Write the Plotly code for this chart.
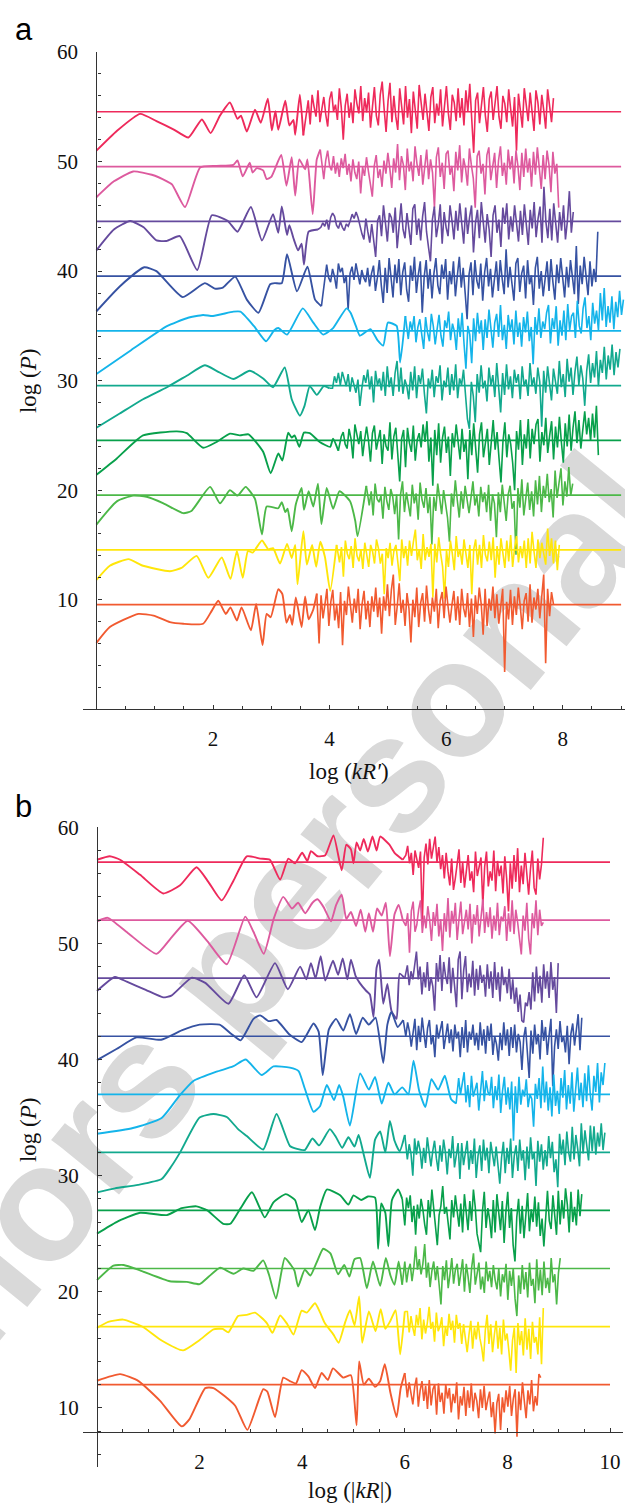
import numpy as np
import plotly.graph_objects as go

COLORS = ["#EE2A5B", "#DD5A9E", "#654A9D", "#3652A2", "#14B4EA",
          "#12A98E", "#08A04B", "#4CB848", "#FFE60A", "#F15A30"]

A_LEVELS = [54.55, 49.55, 44.55, 39.55, 34.55, 29.55, 24.55, 19.55, 14.55, 9.55]
B_LEVELS = [57, 52, 47, 42, 37, 32, 27, 22, 17, 12]
A_LINE_X = [0, 9.0]
B_LINE_X = [0, 10.0]

A_XTICKS = [2, 4, 6, 8]
B_XTICKS = [2, 4, 6, 8, 10]
YTICKS = [10, 20, 30, 40, 50, 60]

# ---------------- panel a ----------------
A1_X = [0, 0.35, 0.75, 1.03, 1.32, 1.58, 1.81, 1.96, 2.12, 2.29, 2.42, 2.48, 2.58, 2.72, 2.82, 2.94, 3.01, 3.07, 3.12, 3.24, 3.31, 3.38, 3.41, 3.49, 3.55]
A1_Y = [51.0, 52.8, 54.36, 53.7, 52.95, 52.2, 53.85, 52.6, 54.2, 55.4, 53.9, 54.2, 52.75, 54.75, 53.55, 55.75, 52.85, 54.6, 52.9, 55.55, 53.3, 53.8, 52.45, 56.1, 52.4]
A1_NR = (3.6, 7.84)
A1_N = [54.2, 55.6, 53.4, 56.1, 55.0, 54.1, 56.5, 53.6, 54.8, 55.9,
        54.3, 53.2, 55.7, 56.4, 54.6, 55.2, 53.8, 56.7, 54.9, 52.0,
        55.1, 56.2, 54.0, 55.4, 53.5, 56.6, 55.3, 54.4, 56.9, 53.7,
        55.8, 54.5, 56.3, 53.1, 55.0, 56.8, 54.2, 53.3, 56.1, 57.3,
        54.8, 52.7, 55.5, 57.2, 53.6, 56.0, 54.1, 52.9, 56.7, 55.2,
        53.4, 56.9, 54.0, 55.7, 52.6, 56.4, 54.7, 53.0, 57.0, 55.1,
        53.8, 56.2, 54.5, 52.8, 55.9, 56.8, 53.5, 55.3, 54.2, 56.6,
        53.2, 55.0, 56.9, 54.4, 52.9, 56.1, 55.4, 53.7, 56.7, 54.0,
        55.8, 53.3, 56.5, 54.6, 57.1, 53.9, 50.8, 55.6, 56.3, 53.5,
        55.0, 56.8, 54.2, 52.7, 55.7, 56.4, 53.8, 55.2, 56.9, 54.1,
        53.0, 56.0, 55.3, 53.6, 56.6, 54.8, 53.2, 55.9, 51.0, 56.2,
        54.5, 53.1, 56.7, 55.0, 53.7, 56.3, 54.2, 52.8, 56.5, 55.4,
        53.4, 56.1, 54.7, 53.0, 56.6, 55.2, 53.6, 55.8]

A2_X = [0, 0.3, 0.63, 0.95, 1.21, 1.3, 1.52, 1.78, 2.06, 2.35, 2.42, 2.51, 2.63, 2.68, 2.75, 2.86, 2.92, 3.0, 3.17, 3.26, 3.35, 3.41, 3.48, 3.58, 3.62, 3.71, 3.78, 3.84]
A2_Y = [46.75, 48.2, 49.1, 48.8, 48.2, 47.9, 45.85, 49.47, 49.6, 49.7, 50.1, 48.65, 49.9, 49.0, 49.4, 49.2, 48.4, 48.6, 50.6, 47.8, 50.4, 46.9, 50.2, 49.3, 50.2, 45.2, 50.2, 51.1]
A2_NR = (3.9, 7.93)
A2_N = [48.4, 50.1, 51.0, 49.6, 49.2, 50.5, 48.9, 49.9, 48.6, 50.3,
        49.4, 50.7, 48.8, 49.8, 48.2, 50.2, 49.0, 48.4, 50.0, 47.1,
        49.5, 48.7, 50.4, 49.1, 47.9, 46.8, 49.6, 50.6, 48.5, 49.3,
        47.7, 50.1, 48.9, 50.8, 49.4, 47.6, 50.3, 49.0, 51.6, 48.3,
        50.5, 49.7, 47.4, 51.2, 49.1, 50.0, 48.2, 51.4, 49.8, 48.7,
        50.6, 47.9, 49.5, 51.1, 48.4, 50.2, 49.0, 45.8, 50.4, 51.3,
        48.6, 49.9, 47.5, 50.7, 51.0, 48.8, 49.6, 47.3, 50.9, 49.2,
        51.5, 48.1, 50.3, 49.4, 47.8, 51.2, 49.7, 48.5, 45.8, 50.5,
        51.0, 48.9, 49.8, 47.0, 50.6, 51.3, 48.3, 49.5, 50.8, 47.6,
        50.1, 51.4, 48.7, 49.9, 47.9, 51.1, 49.3, 50.5, 48.0, 51.0,
        49.6, 47.4, 50.8, 48.6, 51.2, 49.0, 50.3, 47.7, 50.9, 48.8,
        51.3, 49.4, 47.5, 50.6, 48.4, 51.0, 49.7, 47.2, 50.9, 48.9, 49.8, 45.8]

A3_X = [0, 0.3, 0.58, 0.81, 1.03, 1.2, 1.43, 1.73, 1.98, 2.25, 2.42, 2.65, 2.84, 3.03, 3.12, 3.18, 3.27, 3.31, 3.38, 3.46, 3.52, 3.56, 3.64, 3.8]
A3_Y = [41.9, 43.8, 44.57, 44.0, 42.8, 42.75, 43.2, 40.1, 45.1, 44.6, 43.6, 45.85, 42.8, 45.2, 43.5, 45.9, 43.3, 44.2, 43.0, 41.9, 42.5, 40.6, 43.6, 43.8]
A3_NR = (3.85, 8.18)
A3_N = [44.0, 44.4, 44.1, 44.7, 43.8, 44.9, 45.3, 45.0, 44.2, 43.9,
        44.5, 44.0, 43.7, 44.3, 44.1, 44.6, 45.2, 44.8, 45.4, 44.9,
        44.0, 43.4, 42.9, 44.8, 43.6, 42.6, 44.3, 43.0, 41.3, 44.6,
        45.1, 43.2, 46.0, 44.4, 42.7, 45.3, 44.9, 43.5, 45.8, 42.1,
        44.6, 46.2, 43.8, 43.0, 45.3, 44.0, 42.4, 45.7, 46.1, 43.3,
        44.8, 42.8, 45.0, 46.3, 43.6, 42.2, 40.9, 44.7, 45.9, 43.1,
        44.3, 46.1, 42.5, 45.4, 44.0, 43.2, 46.0, 44.6, 42.9, 45.5,
        43.7, 46.2, 44.2, 42.5, 45.8, 43.4, 44.9, 46.0, 41.7, 44.4,
        45.6, 43.0, 46.3, 44.1, 42.6, 45.2, 43.8, 41.3, 45.1, 46.0,
        43.5, 44.7, 42.2, 45.8, 44.3, 46.2, 42.9, 45.0, 43.6, 46.0,
        44.4, 42.7, 45.5, 43.3, 46.1, 44.0, 42.4, 45.6, 43.9, 46.3,
        43.1, 44.8, 45.9, 42.6, 47.7, 44.5, 43.0, 45.7, 42.8, 46.2,
        44.3, 42.6, 45.4, 43.7, 46.0, 42.9, 44.6, 47.3, 43.5, 45.4]

A4_X = [0, 0.4, 0.82, 1.03, 1.48, 1.86, 2.03, 2.17, 2.38, 2.58, 2.78, 2.98, 3.06, 3.18, 3.27, 3.44, 3.62, 3.75, 3.86]
A4_Y = [36.33, 38.6, 40.35, 40.0, 37.63, 38.9, 38.4, 38.5, 39.5, 37.4, 36.2, 38.8, 38.9, 38.9, 41.55, 38.15, 40.4, 37.4, 36.8]
A4_NR = (3.95, 8.6)
A4_N = [40.6, 39.4, 39.0, 40.2, 39.5, 38.4, 40.7, 39.9, 40.3, 38.9,
        39.6, 36.5, 39.8, 40.4, 39.2, 40.7, 39.8, 38.8, 40.1, 39.4,
        39.0, 40.3, 38.6, 39.8, 40.5, 38.2, 39.4, 41.0, 38.7, 37.1,
        40.3, 38.0, 41.2, 39.5, 37.6, 40.6, 38.9, 41.1, 37.8, 39.9,
        40.8, 38.3, 37.2, 40.5, 39.1, 41.3, 38.0, 39.7, 40.9, 36.2,
        39.5, 41.0, 38.4, 40.2, 37.5, 39.8, 41.2, 38.7, 37.9, 40.6,
        39.3, 41.1, 37.4, 40.0, 38.8, 40.9, 37.7, 39.6, 41.3, 38.5,
        40.3, 38.0, 35.6, 39.7, 40.8, 37.8, 41.0, 39.1, 38.4, 40.7,
        37.3, 39.9, 41.2, 38.6, 40.2, 37.6, 39.4, 40.9, 38.2, 41.0,
        39.3, 37.9, 42.0, 38.5, 40.4, 39.0, 37.3, 40.7, 41.2, 38.1,
        39.8, 40.5, 37.5, 41.0, 38.8, 39.6, 36.9, 40.3, 41.3, 38.4,
        40.0, 37.7, 39.5, 40.9, 38.2, 41.1, 39.0, 37.4, 40.6, 38.9,
        41.2, 39.3, 37.6, 40.4, 38.5, 41.0, 39.7, 37.9, 42.3, 37.0,
        40.5, 38.8, 41.3, 39.2, 37.8, 40.9, 38.6, 40.2, 39.0, 43.6]

A5_X = [0, 0.6, 1.21, 1.55, 1.83, 2.0, 2.35, 2.47, 2.7, 2.91, 3.05, 3.12, 3.27, 3.54, 3.72, 3.89, 4.06, 4.29, 4.36, 4.45, 4.52, 4.7, 4.82, 4.92, 5.0, 5.15, 5.21, 5.3]
A5_Y = [30.6, 32.8, 34.97, 35.7, 36.0, 35.9, 36.3, 36.3, 35.0, 33.6, 34.6, 34.8, 34.2, 36.6, 35.3, 34.2, 34.8, 36.6, 36.2, 35.0, 34.1, 34.7, 33.7, 33.2, 35.3, 35.0, 31.65, 35.9]
A5_NR = (5.35, 9.04)
A5_N = [33.8, 35.4, 34.6, 35.9, 33.5, 34.9, 35.6, 34.2, 32.9, 35.8,
        34.4, 33.6, 36.1, 35.0, 33.3, 34.7, 36.0, 34.1, 33.1, 35.5,
        34.8, 36.3, 33.7, 35.2, 34.5, 32.8, 35.7, 34.0, 36.2, 33.4,
        31.1, 35.0, 34.2, 31.6, 35.7, 33.6, 36.2, 34.3, 35.5, 32.8,
        35.6, 33.9, 36.5, 34.8, 33.0, 35.3, 36.1, 34.0, 36.9, 33.7,
        35.1, 32.9, 36.0, 34.5, 35.6, 33.3, 36.4, 34.0, 35.3, 33.1,
        35.8, 34.4, 36.3, 33.6, 34.9, 31.5, 35.8, 34.2, 36.6, 33.9,
        35.4, 34.7, 36.2, 36.9, 33.4, 35.7, 34.7, 36.8, 33.2, 35.5,
        34.1, 36.4, 33.7, 37.0, 34.6, 35.9, 36.2, 33.9, 37.3, 35.0,
        34.3, 36.6, 37.6, 34.8, 35.9, 33.7, 37.1, 35.2, 36.4, 34.6,
        38.0, 35.5, 38.45, 34.9, 36.8, 35.3, 37.7, 34.7, 37.2, 35.8,
        38.2, 36.0, 37.4]

A6_X = [0, 0.4, 0.8, 1.21, 1.55, 1.86, 2.06, 2.35, 2.63, 2.86, 3.03, 3.23, 3.35, 3.49, 3.57, 3.66, 3.78, 3.9, 4.0]
A6_Y = [25.7, 27.0, 28.3, 29.4, 30.45, 31.4, 30.9, 30.15, 30.9, 30.2, 29.4, 31.2, 28.3, 26.8, 27.7, 29.5, 28.7, 29.5, 29.3]
A6_NR = (4.05, 8.98)
A6_N = [29.3, 30.4, 29.8, 30.7, 29.6, 30.8, 30.2, 29.5, 30.6, 29.0,
        30.3, 29.7, 28.9, 30.1, 27.7, 29.3, 30.5, 29.8, 31.0, 29.2,
        30.4, 28.0, 30.9, 29.6, 30.2, 29.1, 30.8, 28.6, 31.3, 29.4,
        30.3, 28.6, 30.7, 31.8, 29.0, 31.2, 28.8, 30.1, 29.5, 28.3,
        30.8, 29.1, 31.3, 28.4, 30.5, 29.7, 31.1, 28.8, 27.0, 30.2,
        29.3, 31.0, 28.5, 30.4, 29.8, 31.4, 28.2, 30.0, 29.4, 31.2,
        28.7, 30.6, 29.1, 31.5, 28.4, 30.2, 29.6, 31.0, 28.9, 26.5,
        25.6, 29.9, 28.6, 26.2, 30.6, 28.9, 31.4, 29.3, 30.0, 28.1,
        31.2, 29.6, 30.5, 28.5, 31.6, 29.2, 27.1, 30.7, 28.7, 31.5,
        29.2, 30.4, 28.4, 31.0, 29.8, 30.6, 28.3, 31.3, 29.5, 30.1,
        28.6, 31.6, 29.5, 30.3, 28.8, 31.2, 29.9, 25.8, 30.9, 28.9,
        31.3, 29.7, 28.2, 31.1, 30.0, 28.8, 31.8, 29.4, 30.6, 28.5,
        32.0, 29.9, 31.2, 28.7, 30.8, 32.2, 29.6, 31.4, 30.2, 27.7,
        30.9, 32.4, 29.8, 31.6, 30.3, 32.7, 29.5, 31.9, 30.7, 33.1,
        30.1, 32.3, 31.0, 33.3, 30.5, 32.6, 31.2, 32.9]

A7_X = [0, 0.35, 0.8, 1.38, 1.55, 1.83, 2.06, 2.29, 2.46, 2.61, 2.86, 2.99, 3.12, 3.19, 3.29, 3.35, 3.4, 3.48, 3.56, 3.66, 3.83, 4.01, 4.06, 4.15]
A7_Y = [21.4, 22.9, 25.0, 25.37, 25.2, 23.87, 24.4, 25.16, 25.0, 25.1, 23.5, 21.55, 23.35, 22.7, 25.25, 24.8, 25.0, 23.95, 25.25, 25.2, 24.4, 23.95, 24.7, 23.6]
A7_NR = (4.2, 8.61)
A7_N = [24.9, 25.3, 24.2, 23.8, 25.6, 24.7, 22.9, 26.0, 25.1, 24.2,
        25.4, 23.1, 24.6, 25.8, 24.5, 22.6, 25.2, 25.9, 23.7, 24.8,
        25.5, 22.4, 25.1, 24.0, 23.6, 26.2, 22.8, 24.9, 25.7, 23.3,
        20.8, 24.7, 25.5, 22.1, 25.7, 24.3, 23.5, 25.9, 22.7, 24.6,
        25.2, 23.9, 26.0, 24.4, 26.3, 22.6, 24.8, 20.4, 25.5, 23.2,
        26.1, 22.5, 24.8, 25.8, 23.4, 24.9, 21.3, 25.2, 23.9, 26.0,
        24.3, 22.8, 25.6, 23.5, 24.6, 21.0, 25.5, 23.2, 26.1, 24.0,
        21.6, 25.1, 26.2, 23.0, 24.4, 25.6, 22.3, 24.8, 26.4, 23.7,
        25.3, 22.9, 20.7, 24.4, 26.2, 23.0, 25.1, 24.2, 22.5, 20.0,
        25.4, 23.7, 26.4, 22.3, 25.1, 23.8, 26.5, 22.9, 25.6, 24.2,
        26.0, 26.5, 22.6, 25.3, 24.1, 26.6, 23.4, 25.0, 26.3, 22.8,
        25.8, 23.9, 26.7, 24.4, 22.5, 26.1, 24.0, 26.9, 23.6, 25.7,
        27.2, 24.3, 26.4, 23.8, 25.6, 27.2, 25.1, 26.6, 24.5, 27.0,
        24.8, 27.7, 23.2]

A8_X = [0, 0.35, 0.63, 0.86, 1.15, 1.49, 1.63, 1.95, 2.12, 2.29, 2.42, 2.56, 2.72, 2.84, 2.92, 3.12, 3.18, 3.24, 3.28, 3.35, 3.42, 3.52, 3.56, 3.64, 3.72, 3.8, 3.86, 3.95, 4.06, 4.17, 4.35, 4.44, 4.48, 4.63]
A8_Y = [16.86, 18.98, 19.5, 19.4, 18.8, 17.9, 18.1, 20.3, 18.8, 20.0, 19.5, 20.3, 19.2, 15.95, 18.5, 18.35, 18.9, 18.0, 18.3, 16.25, 18.7, 20.2, 18.2, 19.9, 18.5, 20.6, 16.9, 20.2, 18.3, 19.9, 19.0, 17.2, 15.8, 20.4]
A8_NR = (4.68, 8.17)
A8_N = [18.6, 19.9, 17.7, 20.6, 19.2, 18.9, 19.5, 17.4, 20.3, 19.0,
        18.2, 20.1, 19.4, 17.8, 19.6, 15.5, 19.6, 20.8, 18.0, 19.8,
        18.7, 17.6, 20.5, 18.8, 19.7, 17.3, 20.7, 19.1, 18.4, 20.2,
        17.9, 19.4, 15.05, 19.4, 18.1, 20.6, 19.3, 17.8, 20.0, 18.6,
        17.5, 15.3, 19.7, 18.5, 20.9, 19.1, 17.5, 19.9, 18.3, 20.4,
        19.0, 17.9, 19.3, 20.8, 18.6, 19.5, 17.6, 20.3, 18.9, 19.8,
        18.0, 20.5, 17.2, 19.6, 18.8, 15.7, 19.8, 18.0, 20.5, 19.1,
        17.2, 19.6, 20.4, 18.3, 19.0, 14.1, 20.2, 18.4, 21.0, 17.7,
        19.5, 20.7, 18.2, 19.9, 17.6, 20.9, 18.7, 21.3, 18.0, 20.4,
        19.3, 21.5, 18.9, 20.1, 17.5, 21.8, 19.3, 20.6, 22.0, 18.6,
        20.8, 19.4, 22.1, 19.5, 20.6]

A9_X = [0, 0.23, 0.55, 0.8, 1.26, 1.46, 1.72, 1.92, 2.15, 2.3, 2.41, 2.51, 2.6, 2.68, 2.84, 2.95, 3.03, 3.15, 3.27, 3.35, 3.41, 3.45, 3.55, 3.61, 3.7, 3.77, 3.84, 3.92, 4.01, 4.12]
A9_Y = [11.8, 13.1, 13.7, 13.1, 12.6, 12.9, 14.0, 12.0, 13.85, 11.9, 14.45, 12.0, 14.45, 14.3, 15.4, 14.6, 14.7, 13.3, 15.1, 13.8, 15.0, 11.4, 16.25, 13.2, 15.0, 13.0, 15.3, 13.9, 10.8, 15.0]
A9_NR = (4.17, 7.94)
A9_N = [13.4, 14.8, 12.1, 15.4, 14.2, 13.7, 14.9, 12.9, 15.6, 14.0,
        13.5, 14.6, 12.8, 15.2, 14.1, 13.0, 15.0, 14.4, 13.3, 15.5,
        14.7, 13.3, 14.2, 10.5, 14.7, 13.8, 15.2, 13.1, 14.5, 15.0,
        13.4, 11.7, 15.5, 13.8, 14.9, 13.1, 15.4, 14.0, 15.3, 16.4,
        13.6, 14.6, 12.8, 16.0, 13.6, 14.8, 13.9, 15.1, 10.2, 15.1,
        13.4, 15.7, 14.2, 13.0, 10.1, 14.5, 13.0, 15.4, 14.2, 12.7,
        15.8, 13.9, 14.6, 13.2, 15.5, 14.0, 12.9, 15.0, 10.5, 14.6,
        15.5, 13.2, 15.0, 12.9, 15.9, 14.1, 13.5, 15.3, 13.6, 15.7,
        12.0, 14.9, 13.2, 15.6, 14.3, 12.9, 15.4, 13.5, 15.9, 13.0,
        14.7, 15.8, 13.4, 14.9, 13.8, 15.4, 12.9, 15.6, 13.3, 16.2,
        14.4, 12.9, 15.5, 13.8, 15.2, 14.0, 13.2, 16.5, 14.0, 15.6,
        13.3, 15.4, 12.7, 15.0]

A10_X = [0, 0.23, 0.72, 0.98, 1.26, 1.49, 1.83, 1.98, 2.09, 2.22, 2.3, 2.41, 2.49, 2.65, 2.74, 2.85, 2.92, 2.99, 3.12, 3.19, 3.26, 3.32, 3.36, 3.42, 3.52, 3.58, 3.64, 3.72, 3.78]
A10_Y = [6.05, 7.5, 8.7, 8.55, 7.95, 7.8, 7.8, 9.0, 9.9, 8.7, 9.3, 8.1, 9.3, 7.2, 9.6, 5.85, 8.7, 8.4, 10.95, 10.5, 7.9, 8.6, 7.7, 10.2, 7.5, 10.3, 8.2, 9.1, 10.55]
A10_NR = (3.82, 7.84)
A10_N = [6.0, 10.4, 8.3, 9.6, 11.0, 7.6, 9.8, 10.9, 8.1, 9.5,
         7.4, 10.7, 5.85, 9.9, 8.6, 11.2, 9.3, 7.9, 10.1, 8.8,
         11.0, 7.3, 9.6, 10.8, 8.2, 9.9, 7.5, 10.3, 8.9, 11.1,
         8.4, 10.2, 6.9, 10.3, 9.0, 11.4, 8.5, 10.9, 12.3, 7.7,
         9.4, 11.5, 8.8, 10.0, 7.6, 10.6, 9.2, 6.1, 10.0, 8.4,
         11.1, 7.5, 9.7, 10.6, 8.0, 11.3, 9.1, 7.8, 10.2, 8.9,
         11.0, 7.4, 9.9, 10.7, 8.3, 11.2, 9.4, 7.9, 9.5, 10.8,
         8.1, 10.3, 7.7, 11.0, 9.2, 8.4, 10.6, 7.5, 10.1, 6.6,
         10.4, 8.7, 11.1, 9.6, 6.8, 11.0, 7.6, 10.1, 9.0, 11.2,
         8.3, 10.5, 7.8, 9.7, 11.0, 3.4, 9.8, 8.2, 10.9, 7.7,
         10.3, 8.6, 11.1, 9.4, 7.3, 9.9, 10.6, 8.0, 11.4, 7.9,
         10.2, 9.1, 11.0, 8.3, 10.5, 12.3, 4.2, 11.0, 8.5, 10.7, 9.6]

# ---------------- panel b ----------------
B1_X = [0, 0.25, 0.45, 0.84, 1.29, 1.62, 1.94, 2.17, 2.43, 2.66, 2.92, 3.18, 3.37, 3.57, 3.73, 3.86, 4.0, 4.1, 4.17, 4.3, 4.45, 4.61, 4.77, 4.86, 4.95, 5.0, 5.06, 5.13, 5.2, 5.28, 5.37, 5.45, 5.52, 5.7, 5.8, 5.96]
B1_Y = [57.2, 57.5, 57.2, 55.9, 54.3, 55.0, 56.55, 55.3, 53.7, 55.4, 57.5, 57.3, 57.2, 55.5, 57.3, 56.9, 57.8, 57.1, 57.95, 57.5, 57.6, 59.3, 56.3, 58.5, 58.1, 56.9, 58.7, 58.0, 59.0, 57.9, 59.2, 58.0, 59.2, 58.5, 57.8, 57.2]
B1_NR = (6.02, 8.7)
B1_N = [57.6, 58.4, 56.9, 57.8, 55.9, 58.0, 57.2, 56.5, 57.9, 51.75,
        57.4, 58.6, 56.8, 59.0, 57.3, 58.2, 59.2, 57.0, 58.3, 56.4,
        57.6, 55.6, 57.8, 56.2, 55.0, 57.3, 54.6, 55.6, 56.8, 58.1,
        55.2, 57.0, 54.8, 56.5, 57.6, 55.4, 56.2, 54.4, 57.9, 55.8,
        56.6, 57.4, 53.3, 56.6, 57.9, 54.9, 56.2, 55.4, 58.0, 54.5,
        57.1, 55.8, 56.7, 54.3, 57.5, 55.6, 52.75, 56.9, 54.7, 57.6,
        55.3, 58.2, 54.4, 56.7, 55.1, 57.8, 56.0, 54.2, 56.4, 58.0,
        54.8, 54.2, 57.3, 55.5, 56.8, 59.1]

B2_X = [0, 0.21, 0.6, 1.16, 1.45, 1.77, 2.15, 2.53, 2.89, 3.05, 3.25, 3.45, 3.63, 3.8, 3.92, 4.06, 4.2, 4.3, 4.42, 4.56, 4.66, 4.77, 4.86, 4.95, 5.05, 5.14, 5.23, 5.3, 5.38, 5.46, 5.55, 5.63, 5.71, 5.8, 5.88, 5.96]
B2_Y = [51.9, 52.2, 50.9, 49.1, 50.5, 51.95, 50.2, 48.2, 52.3, 51.0, 49.1, 52.2, 54.0, 53.0, 53.5, 52.6, 53.5, 53.8, 53.1, 51.9, 53.3, 54.2, 52.1, 52.7, 51.5, 52.9, 51.0, 52.6, 51.0, 53.0, 52.4, 53.5, 48.9, 52.5, 53.3, 52.0]
B2_NR = (6.02, 8.7)
B2_N = [51.5, 52.6, 49.2, 52.8, 53.6, 51.0, 51.6, 52.9, 53.7, 50.9,
        52.4, 51.3, 53.2, 52.0, 50.2, 52.7, 51.5, 53.4, 50.6, 52.1,
        49.35, 52.6, 51.0, 53.9, 50.5, 52.8, 51.7, 53.5, 50.3, 52.1,
        53.6, 50.8, 51.9, 52.9, 51.2, 53.4, 50.0, 52.5, 51.6, 53.3,
        50.6, 52.2, 53.8, 50.9, 52.7, 51.4, 53.1, 50.4, 52.4, 51.1,
        53.5, 50.7, 52.3, 51.9, 53.2, 50.2, 52.6, 51.0, 53.7, 50.8,
        52.9, 51.8, 50.5, 49.05, 52.4, 51.1, 53.5, 50.4, 49.05, 52.6,
        51.3, 53.7, 50.7, 52.9, 51.5, 51.8]

B3_X = [0, 0.35, 0.58, 0.95, 1.29, 1.45, 1.85, 2.11, 2.56, 2.87, 3.11, 3.47, 3.72, 3.96, 4.08, 4.17, 4.26, 4.36, 4.45, 4.6, 4.7, 4.79, 4.88, 4.95, 5.04, 5.12, 5.25, 5.32, 5.39, 5.45, 5.5, 5.58, 5.66, 5.74, 5.84, 5.9, 6.0]
B3_Y = [45.9, 47.1, 46.7, 46.0, 45.35, 45.5, 47.05, 46.6, 44.8, 47.25, 45.35, 48.3, 46.05, 48.0, 46.9, 48.3, 47.0, 48.9, 46.8, 48.5, 47.3, 48.7, 46.9, 48.6, 47.2, 46.6, 45.9, 45.6, 43.65, 47.9, 48.6, 44.8, 46.5, 44.2, 43.5, 47.4, 47.0]
B3_NR = (6.05, 8.99)
B3_N = [48.1, 46.4, 47.6, 46.9, 48.0, 49.3, 46.9, 48.0, 45.6, 47.5,
        46.2, 48.4, 45.9, 47.1, 46.3, 44.2, 48.3, 46.7, 49.0, 45.9,
        48.4, 47.2, 46.5, 48.8, 45.7, 47.9, 46.3, 44.5, 48.6, 49.3,
        45.2, 47.7, 48.9, 45.8, 47.4, 46.2, 48.5, 45.5, 47.8, 46.0,
        48.1, 46.6, 47.3, 45.4, 48.2, 46.1, 47.6, 45.3, 48.4, 46.0,
        47.5, 45.0, 48.0, 46.4, 47.1, 45.7, 47.8, 45.2, 46.9, 44.8,
        46.2, 44.1, 45.6, 43.35, 43.2, 44.9, 44.6, 45.8, 44.3, 47.5,
        45.0, 48.0, 45.7, 47.2, 44.9, 48.2, 46.1, 47.6, 45.3, 48.4,
        46.0, 47.1, 44.0, 48.3]

B4_X = [0, 0.38, 0.77, 1.25, 1.65, 2.0, 2.39, 2.62, 2.8, 3.05, 3.18, 3.35, 3.5, 3.74, 3.99, 4.22, 4.32, 4.4, 4.52, 4.66, 4.8, 4.93, 5.05, 5.18, 5.3, 5.43, 5.58, 5.66, 5.74, 5.86, 5.97]
B4_Y = [39.95, 40.9, 41.9, 41.7, 42.5, 43.0, 43.0, 42.2, 41.65, 43.5, 43.8, 43.3, 43.4, 42.2, 41.5, 43.1, 42.4, 38.65, 42.6, 43.5, 42.5, 43.9, 42.2, 43.6, 43.0, 43.6, 39.7, 43.0, 44.1, 42.8, 43.4]
B4_NR = (6.02, 9.45)
B4_N = [42.0, 43.2, 42.4, 41.1, 42.6, 43.5, 40.8, 42.9, 41.5, 43.6,
        42.2, 41.0, 42.7, 43.4, 41.3, 42.1, 40.2, 43.0, 41.8, 42.5,
        43.3, 40.9, 42.2, 43.1, 41.4, 42.6, 40.7, 43.0, 41.8, 42.4,
        40.2, 42.8, 41.0, 43.4, 40.6, 42.4, 41.7, 43.0, 41.2, 42.3,
        40.8, 43.2, 41.2, 42.6, 40.5, 42.9, 41.6, 43.1, 40.4, 42.0,
        41.3, 39.9, 42.3, 40.8, 43.2, 41.2, 42.6, 40.3, 42.8, 41.0,
        43.0, 40.6, 42.2, 41.5, 39.1, 41.9, 42.8, 40.4, 38.4, 42.5,
        40.5, 43.0, 41.3, 42.2, 40.0, 43.4, 41.6, 42.8, 40.4, 42.1,
        43.5, 37.7, 41.1, 42.6, 40.9, 43.3, 41.5, 42.0, 40.6, 42.9,
        39.6, 42.2, 43.1, 41.2, 42.7, 43.9, 40.8, 43.6]

B5_X = [0, 0.7, 1.26, 1.62, 1.88, 2.33, 2.65, 2.9, 3.21, 3.44, 3.76, 3.93, 4.05, 4.22, 4.35, 4.48, 4.62, 4.72, 4.8, 4.93, 5.13, 5.3, 5.42, 5.55, 5.68, 5.8, 5.95, 6.07, 6.17, 6.28, 6.4, 6.52, 6.65, 6.78, 6.9, 7.0]
B5_Y = [33.6, 34.1, 34.96, 36.95, 38.15, 38.95, 39.4, 40.0, 38.66, 39.4, 39.3, 39.0, 37.5, 35.5, 36.0, 37.8, 36.5, 37.8, 36.8, 34.3, 38.8, 37.4, 38.5, 36.2, 38.0, 37.0, 37.6, 37.0, 39.9, 37.3, 35.9, 38.3, 37.4, 38.6, 36.6, 36.2]
B5_NR = (7.05, 9.9)
B5_N = [38.4, 37.0, 37.8, 38.9, 36.3, 37.8, 35.9, 38.6, 36.8, 37.5,
        38.0, 35.6, 37.5, 39.0, 36.4, 38.2, 37.2, 36.9, 38.5, 35.8,
        37.7, 36.5, 38.7, 35.4, 37.3, 38.5, 36.1, 37.6, 35.7, 38.1,
        33.0, 37.7, 35.4, 38.5, 36.1, 37.4, 36.8, 38.3, 35.9, 37.0,
        36.6, 34.2, 37.9, 36.6, 38.4, 35.8, 39.4, 36.3, 38.1, 35.6,
        37.6, 35.1, 38.7, 36.0, 37.3, 35.3, 38.4, 36.7, 39.1, 35.7,
        37.8, 36.2, 38.9, 35.5, 37.4, 39.3, 36.5, 38.0, 35.9, 38.8,
        36.4, 39.5, 37.0, 35.6, 38.6, 37.2, 39.7, 36.3, 38.9, 37.8, 39.7]

B6_X = [0, 0.35, 0.8, 1.26, 1.45, 1.62, 2.0, 2.27, 2.53, 2.75, 2.92, 3.24, 3.5, 3.76, 3.9, 4.05, 4.2, 4.33, 4.54, 4.66, 4.78, 4.9, 5.02, 5.1, 5.2, 5.32, 5.42, 5.52, 5.62, 5.71, 5.8, 5.9, 6.0]
B6_Y = [28.56, 28.9, 29.2, 29.7, 30.8, 32.0, 35.0, 35.3, 35.05, 34.0, 33.4, 32.25, 35.3, 32.55, 32.3, 32.2, 33.2, 32.6, 34.0, 33.3, 32.4, 33.3, 32.5, 33.5, 31.8, 29.8, 33.1, 33.8, 32.0, 34.7, 33.0, 32.1, 33.5]
B6_NR = (6.05, 9.9)
B6_N = [31.4, 32.7, 31.9, 30.0, 33.2, 31.8, 33.0, 32.2, 30.6, 32.4,
        31.1, 33.3, 32.0, 30.8, 32.1, 33.0, 31.5, 30.4, 32.6, 31.2,
        33.1, 32.0, 30.1, 32.3, 31.5, 33.4, 30.7, 31.9, 32.8, 29.7,
        32.8, 30.9, 31.8, 33.0, 30.5, 32.2, 31.0, 33.2, 29.8, 31.7,
        32.6, 30.4, 33.1, 31.3, 32.4, 30.2, 32.9, 31.6, 30.8, 32.5,
        31.0, 29.3, 31.6, 32.9, 30.2, 32.4, 31.0, 33.2, 29.8, 31.7,
        32.6, 30.4, 33.1, 31.3, 32.2, 29.6, 32.5, 30.6, 33.3, 31.4,
        32.0, 29.1, 33.0, 31.2, 32.7, 30.5, 32.2, 30.8, 33.4, 31.5,
        32.9, 30.3, 31.4, 29.0, 33.6, 31.8, 33.1, 30.9, 33.8, 32.0,
        31.2, 34.2, 31.4, 33.5, 32.3, 30.8, 34.5, 31.9, 33.9, 32.6,
        31.3, 34.3, 32.1, 34.25, 31.8, 33.7, 32.5, 34.5, 32.2, 33.7]

B7_X = [0, 0.38, 0.84, 1.36, 1.65, 1.94, 2.15, 2.46, 2.6, 2.8, 3.02, 3.27, 3.44, 3.68, 3.86, 3.99, 4.12, 4.25, 4.35, 4.48, 4.74, 4.9, 5.0, 5.15, 5.28, 5.42, 5.48, 5.54, 5.62, 5.68, 5.75, 5.87, 5.95]
B7_Y = [25.0, 26.0, 26.8, 26.6, 27.2, 27.35, 27.0, 25.85, 25.85, 27.2, 28.56, 26.4, 27.7, 28.4, 27.9, 26.0, 27.0, 25.3, 27.3, 28.8, 28.3, 27.5, 28.3, 27.9, 28.2, 28.1, 23.7, 27.6, 26.8, 23.9, 27.9, 28.8, 28.0]
B7_NR = (6.0, 9.45)
B7_N = [25.7, 28.1, 27.2, 28.3, 26.0, 27.4, 24.9, 27.5, 26.3, 28.0,
        27.1, 25.8, 24.9, 27.9, 26.4, 28.8, 27.0, 25.2, 24.0, 26.6,
        27.4, 29.1, 26.7, 27.3, 25.8, 24.5, 27.9, 26.4, 28.3, 27.0,
        25.6, 27.6, 25.1, 28.4, 26.7, 25.3, 27.8, 26.1, 28.8, 27.3,
        25.0, 24.2, 23.4, 26.9, 28.6, 25.5, 27.2, 26.2, 24.6, 27.9,
        25.1, 28.4, 26.7, 25.3, 27.8, 24.2, 26.9, 28.6, 25.5, 27.2,
        24.0, 22.6, 26.4, 28.0, 25.0, 27.4, 24.6, 26.8, 28.5, 25.2,
        27.1, 26.0, 28.2, 25.6, 27.7, 24.8, 26.3, 23.9, 26.9, 28.7,
        26.1, 25.4, 28.3, 26.6, 24.9, 28.7, 25.8, 27.9, 26.3, 28.9,
        27.5, 25.1, 28.6, 26.0, 27.3, 25.7, 28.8, 26.5, 28.4]

B8_X = [0, 0.32, 0.52, 0.86, 1.42, 1.75, 2.0, 2.18, 2.4, 2.66, 2.85, 3.05, 3.24, 3.35, 3.49, 3.66, 3.78, 3.85, 3.92, 4.05, 4.16, 4.28, 4.41, 4.55, 4.7, 4.82, 4.92, 5.02, 5.13, 5.26, 5.38, 5.52, 5.63, 5.72, 5.8, 5.88, 5.95]
B8_Y = [21.0, 22.24, 22.3, 21.8, 20.9, 20.85, 20.65, 21.3, 22.07, 21.55, 22.0, 21.8, 22.7, 21.5, 19.4, 22.9, 22.3, 21.8, 20.45, 21.9, 21.4, 22.5, 23.7, 23.3, 21.5, 22.3, 21.3, 22.8, 22.9, 20.3, 22.6, 20.5, 22.9, 21.4, 20.6, 22.6, 20.6]
B8_NR = (6.0, 9.03)
B8_N = [22.6, 20.8, 21.9, 22.4, 20.9, 22.1, 23.9, 21.9, 22.8, 21.5,
        22.4, 24.1, 21.2, 22.5, 20.4, 21.8, 22.6, 21.0, 22.2, 20.6,
        18.9, 22.2, 21.0, 22.7, 20.3, 21.5, 22.9, 20.7, 21.9, 22.4,
        20.5, 21.6, 22.8, 20.0, 22.4, 21.3, 19.9, 22.1, 23.3, 20.6,
        21.7, 22.5, 20.2, 21.3, 19.9, 22.6, 20.9, 21.8, 20.4, 22.3,
        21.0, 20.2, 22.0, 19.6, 21.5, 20.8, 22.4, 19.3, 21.8, 20.5,
        22.0, 19.4, 17.9, 21.4, 19.8, 22.3, 20.2, 21.7, 19.5, 22.5,
        20.5, 21.1, 19.0, 22.8, 20.1, 21.9, 19.7, 22.6, 20.3, 21.2,
        19.9, 22.9, 20.8, 21.5, 18.9, 21.6, 22.9]

B9_X = [0, 0.22, 0.51, 0.88, 1.26, 1.68, 1.99, 2.27, 2.45, 2.56, 2.75, 2.92, 3.08, 3.31, 3.42, 3.57, 3.71, 3.83, 3.99, 4.09, 4.25, 4.35, 4.44, 4.61, 4.71, 4.84, 4.93, 5.02, 5.11, 5.17, 5.3, 5.43, 5.53, 5.62, 5.72, 5.82, 5.91, 6.0]
B9_Y = [16.88, 17.4, 17.6, 17.0, 15.8, 14.95, 15.8, 16.75, 16.8, 16.5, 17.9, 18.0, 18.2, 17.3, 16.45, 17.95, 17.2, 16.3, 18.37, 18.2, 19.0, 18.2, 17.3, 16.3, 15.6, 17.4, 18.4, 17.1, 19.6, 15.6, 18.3, 16.6, 18.5, 16.8, 17.5, 18.4, 14.6, 18.3]
B9_NR = (6.05, 8.7)
B9_N = [18.3, 16.5, 17.9, 16.9, 16.2, 18.0, 17.1, 18.6, 15.9, 17.6,
        16.4, 17.3, 18.7, 16.8, 17.4, 15.7, 18.2, 16.6, 17.0, 17.8,
        15.3, 17.0, 16.2, 18.1, 16.7, 17.5, 15.6, 18.0, 16.8, 17.3,
        15.5, 17.2, 16.1, 14.8, 16.3, 17.5, 15.1, 16.9, 15.9, 17.4,
        16.0, 15.2, 14.0, 16.7, 18.0, 15.5, 17.2, 14.8, 16.3, 17.5,
        15.1, 16.9, 14.6, 17.6, 15.8, 16.4, 14.9, 13.2, 15.8, 16.9,
        13.0, 17.3, 15.4, 16.6, 14.5, 17.7, 15.0, 16.8, 14.2, 17.4,
        15.6, 16.1, 14.6, 17.8, 13.75, 18.6]

B10_X = [0, 0.45, 0.81, 1.23, 1.65, 1.8, 2.11, 2.27, 2.69, 2.93, 3.24, 3.32, 3.47, 3.63, 3.76, 3.88, 3.99, 4.12, 4.25, 4.38, 4.5, 4.6, 4.8, 4.95, 5.06, 5.11, 5.2, 5.3, 5.42, 5.52, 5.61, 5.72, 5.84, 5.92, 6.0]
B10_Y = [12.33, 12.9, 12.3, 10.6, 8.4, 9.0, 11.7, 11.7, 10.2, 8.1, 11.6, 11.4, 9.2, 12.6, 12.3, 12.1, 13.25, 12.7, 11.7, 13.0, 12.4, 13.4, 12.6, 12.8, 8.5, 14.0, 12.0, 12.5, 11.8, 12.3, 13.75, 11.3, 9.2, 11.7, 13.0]
B10_NR = (6.05, 8.65)
B10_N = [10.9, 12.2, 11.4, 10.3, 11.8, 12.6, 10.1, 11.5, 12.3, 10.6,
         11.9, 9.9, 12.4, 10.2, 11.6, 12.0, 9.4, 12.1, 10.5, 11.3,
         9.5, 12.0, 10.8, 11.7, 9.6, 11.2, 10.4, 12.2, 9.0, 11.0,
         10.2, 11.8, 9.3, 11.5, 10.0, 12.1, 9.7, 11.3, 10.6, 9.1,
         11.6, 10.0, 11.9, 9.8, 10.7, 11.4, 9.2, 10.5, 7.8, 10.4,
         11.2, 8.1, 10.9, 9.6, 11.5, 10.1, 11.9, 9.3, 10.8, 11.6,
         7.5, 11.4, 9.8, 12.2, 10.6, 9.1, 11.5, 10.3, 12.4, 9.7,
         11.0, 10.2, 12.9, 12.6]

PANEL_A = [(A1_X, A1_Y, A1_N, A1_NR), (A2_X, A2_Y, A2_N, A2_NR), (A3_X, A3_Y, A3_N, A3_NR),
           (A4_X, A4_Y, A4_N, A4_NR), (A5_X, A5_Y, A5_N, A5_NR), (A6_X, A6_Y, A6_N, A6_NR),
           (A7_X, A7_Y, A7_N, A7_NR), (A8_X, A8_Y, A8_N, A8_NR), (A9_X, A9_Y, A9_N, A9_NR),
           (A10_X, A10_Y, A10_N, A10_NR)]
PANEL_B = [(B1_X, B1_Y, B1_N, B1_NR), (B2_X, B2_Y, B2_N, B2_NR), (B3_X, B3_Y, B3_N, B3_NR),
           (B4_X, B4_Y, B4_N, B4_NR), (B5_X, B5_Y, B5_N, B5_NR), (B6_X, B6_Y, B6_N, B6_NR),
           (B7_X, B7_Y, B7_N, B7_NR), (B8_X, B8_Y, B8_N, B8_NR), (B9_X, B9_Y, B9_N, B9_NR),
           (B10_X, B10_Y, B10_N, B10_NR)]

W, H = 625, 1508
fig = go.Figure()


def add_curves(panel, levels, line_x, xa, ya):
    for (xs, ys, noise, nr), color in zip(panel, COLORS):
        fig.add_trace(go.Scatter(x=xs, y=ys, mode="lines", xaxis=xa, yaxis=ya,
                                 line=dict(color=color, width=1.9, shape="spline", smoothing=0.5),
                                 hoverinfo="skip", showlegend=False))
        nx = [xs[-1]] + list(np.linspace(nr[0], nr[1], len(noise)))
        ny = [ys[-1]] + list(noise)
        fig.add_trace(go.Scatter(x=nx, y=ny, mode="lines", xaxis=xa, yaxis=ya,
                                 line=dict(color=color, width=1.6),
                                 hoverinfo="skip", showlegend=False))
    for lev, color in zip(levels, COLORS):
        fig.add_trace(go.Scatter(x=line_x, y=[lev, lev], mode="lines", xaxis=xa, yaxis=ya,
                                 line=dict(color=color, width=1.7),
                                 hoverinfo="skip", showlegend=False))


add_curves(PANEL_A, A_LEVELS, A_LINE_X, "x", "y")
add_curves(PANEL_B, B_LEVELS, B_LINE_X, "x2", "y2")

AX = "#333333"
TICKFONT = dict(family="Liberation Serif", size=21, color="#111111")
common = dict(showline=True, linecolor=AX, linewidth=1.2, ticks="inside", ticklen=4,
              tickwidth=1, tickcolor=AX, showgrid=False, zeroline=False,
              tickfont=TICKFONT, fixedrange=True)


def xminor():
    return dict(ticks="inside", ticklen=3, tickwidth=1, tickcolor=AX, tick0=0, dtick=0.5, showgrid=False)


def yminor():
    return dict(ticks="inside", ticklen=3, tickwidth=1, tickcolor=AX, tick0=0, dtick=2, showgrid=False)


a_x0px, a_ppu = 96.4, 58.3
b_x0px, b_ppu = 97.0, 51.3

fig.update_layout(
    width=W, height=H, margin=dict(l=0, r=0, t=0, b=0),
    paper_bgcolor="white", plot_bgcolor="rgba(0,0,0,0)", showlegend=False,
    xaxis=dict(domain=[83 / W, 1.0], range=[(83 - a_x0px) / a_ppu, (625 - a_x0px) / a_ppu],
               anchor="y", tickmode="array", tickvals=A_XTICKS, ticktext=[str(v) for v in A_XTICKS],
               minor=xminor(), ticklabelstandoff=10, **common),
    yaxis=dict(domain=[1 - 702.8 / H, 1 - 40.4 / H], range=[0, 60], anchor="free",
               position=a_x0px / W, tickmode="array", tickvals=YTICKS,
               ticktext=[str(v) for v in YTICKS], minor=yminor(), ticklabelstandoff=14, **common),
    xaxis2=dict(domain=[83 / W, 623 / W], range=[(83 - b_x0px) / b_ppu, (623 - b_x0px) / b_ppu],
                anchor="free", position=1 - 1431.7 / H, tickmode="array", tickvals=B_XTICKS,
                ticktext=[str(v) for v in B_XTICKS], minor=xminor(), ticklabelstandoff=10, **common),
    yaxis2=dict(domain=[1 - 1466.7 / H, 1 - 821.8 / H], range=[4.9, 60], anchor="free",
                position=b_x0px / W, tickmode="array", tickvals=YTICKS,
                ticktext=[str(v) for v in YTICKS], minor=yminor(), ticklabelstandoff=14, **common),
)

# watermark (behind the data)
cx, cy, ang, half = 322.0, 825.0, np.deg2rad(51), 300.0
fig.add_shape(type="line", xref="paper", yref="paper",
              x0=(cx - half * np.cos(ang)) / W, y0=1 - (cy + half * np.sin(ang)) / H,
              x1=(cx + half * np.cos(ang)) / W, y1=1 - (cy - half * np.sin(ang)) / H,
              line=dict(color="rgba(0,0,0,0)", width=1), layer="below",
              label=dict(text="Authors personal copy", textposition="middle", yanchor="middle",
                         font=dict(family="Liberation Sans", size=165, color="#d9d9d9", weight="bold")))

TFONT = dict(family="Liberation Serif", size=23, color="#111111")


def ann(text, xpx, ypx, angle=0, font=TFONT, xanchor="center", yanchor="middle"):
    fig.add_annotation(text=text, x=xpx / W, y=1 - ypx / H, xref="paper", yref="paper",
                       showarrow=False, textangle=angle, font=font, xanchor=xanchor, yanchor=yanchor)


ann("log (<i>P</i>)", 28, 372, angle=-90)
ann("log (<i>kR′</i>)", 349, 766)
ann("log (<i>P</i>)", 28, 1127, angle=-90)
ann("log (|<i>kR</i>|)", 350, 1490)
PFONT = dict(family="Liberation Sans", size=31, color="#000000")
ann("a", 13, 18, font=PFONT, xanchor="left")
ann("b", 13, 801, font=PFONT, xanchor="left")

fig.write_html("out.html")
